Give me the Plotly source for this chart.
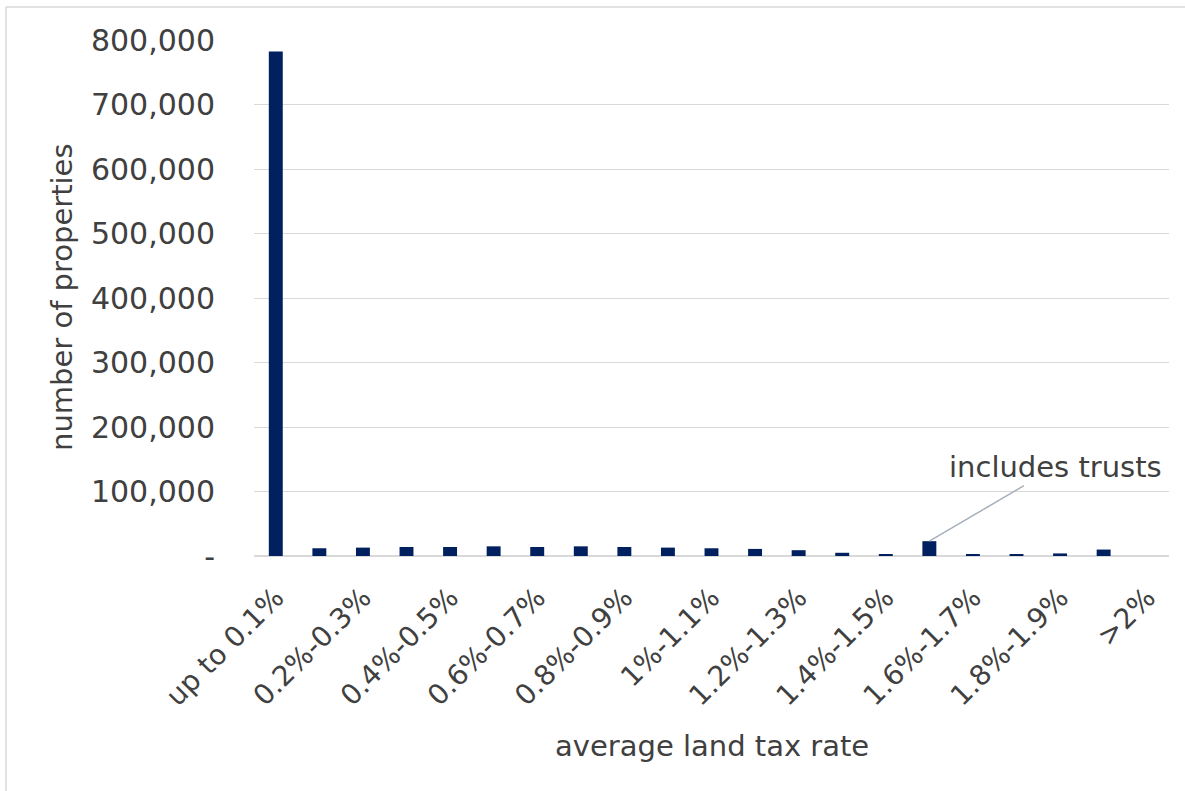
import plotly.graph_objects as go

categories = ["up to 0.1%", "0.1%-0.2%", "0.2%-0.3%", "0.3%-0.4%", "0.4%-0.5%",
              "0.5%-0.6%", "0.6%-0.7%", "0.7%-0.8%", "0.8%-0.9%", "0.9%-1%",
              "1%-1.1%", "1.1%-1.2%", "1.2%-1.3%", "1.3%-1.4%", "1.4%-1.5%",
              "1.5%-1.6%", "1.6%-1.7%", "1.7%-1.8%", "1.8%-1.9%", "1.9%-2%", ">2%"]
properties = [782000, 12000, 13000, 14000, 14000, 15000, 14000, 15000, 14000, 13000,
              12000, 11000, 9000, 5000, 3000, 23000, 3000, 3000, 4000, 10000, None]
shown_ticks = categories[::2]
y_tickvals = [0, 100000, 200000, 300000, 400000, 500000, 600000, 700000, 800000]
y_ticktext = ["-", "100,000", "200,000", "300,000", "400,000", "500,000",
              "600,000", "700,000", "800,000"]

FONT = "DejaVu Sans"
TXT = "#404040"

fig = go.Figure(go.Bar(
    x=categories, y=properties,
    marker=dict(color="#002060", line=dict(width=0)),
    width=0.32,
))

fig.update_layout(
    width=1185, height=791,
    margin=dict(l=254, r=16, t=40, b=235),
    plot_bgcolor="white", paper_bgcolor="white",
    showlegend=False,
    font=dict(family=FONT, color=TXT, size=26),
    xaxis=dict(
        type="category",
        tickmode="array", tickvals=shown_ticks, ticktext=shown_ticks,
        tickangle=-45,
        tickfont=dict(size=28, color=TXT, family=FONT),
        ticks="outside", ticklen=13, tickcolor="rgba(0,0,0,0)",
        showgrid=False, showline=False, zeroline=False,
    ),
    yaxis=dict(
        range=[0, 800000],
        tickmode="array", tickvals=y_tickvals, ticktext=y_ticktext,
        tickfont=dict(size=30, color=TXT, family=FONT),
        ticks="outside", ticklen=32, tickcolor="rgba(0,0,0,0)",
        showgrid=True, gridcolor="#d9d9d9", gridwidth=1.3,
        zeroline=True, zerolinecolor="#d9d9d9", zerolinewidth=1.5,
    ),
    annotations=[
        dict(x="1.5%-1.6%", y=23000, xref="x", yref="y",
             text="includes trusts", showarrow=True, arrowhead=0,
             arrowcolor="#a6b0bb", arrowwidth=1.5,
             ax=126, ay=-74, font=dict(size=29, color=TXT, family=FONT)),
        dict(x=0.5, y=-0.368, xref="paper", yref="paper",
             text="average land tax rate", showarrow=False,
             font=dict(size=29, color=TXT, family=FONT),
             xanchor="center", yanchor="middle"),
        dict(x=(62 - 254) / 915, y=(556 - 297) / 516, xref="paper", yref="paper",
             text="number of properties", showarrow=False, textangle=-90,
             font=dict(size=29, color=TXT, family=FONT),
             xanchor="center", yanchor="middle"),
    ],
    shapes=[
        dict(type="line", xref="paper", yref="paper",
             x0=(6 - 254) / 915, x1=(1185 - 254) / 915,
             y0=(556 - 7) / 516, y1=(556 - 7) / 516,
             line=dict(color="#d9d9d9", width=1.5)),
        dict(type="line", xref="paper", yref="paper",
             x0=(6 - 254) / 915, x1=(6 - 254) / 915,
             y0=(556 - 7) / 516, y1=(556 - 791) / 516,
             line=dict(color="#d9d9d9", width=1.5)),
    ],
)

fig.write_html("out.html")
